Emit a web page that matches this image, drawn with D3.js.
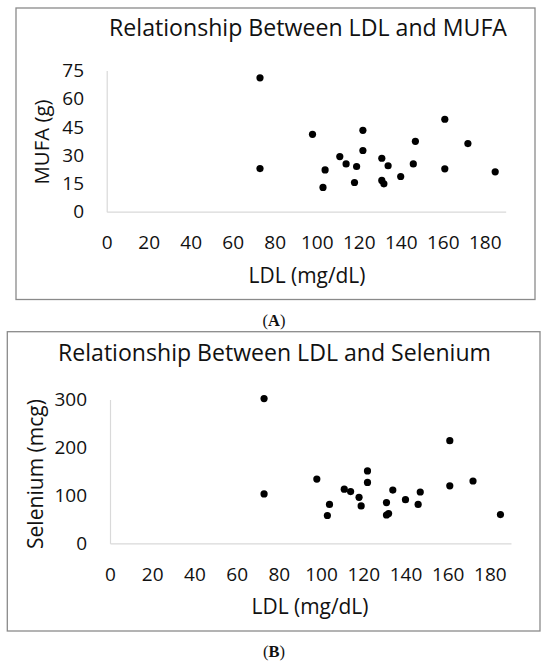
<!DOCTYPE html>
<html>
<head>
<meta charset="utf-8">
<script src="https://cdnjs.cloudflare.com/ajax/libs/d3/7.8.5/d3.min.js"></script>
<style>
  body { margin: 0; background: #fff; }
  svg text { font-family: "Open Sans", Lato, sans-serif; fill: #111; }
  svg text.caption { font-family: "Liberation Serif", "DejaVu Serif", serif; }
</style>
</head>
<body>
<svg id="chart" width="550" height="666"></svg>
<script>
// values (same subjects, same LDL)
var ldl = [73, 73, 98, 103, 104, 111, 114, 118, 119, 122, 122, 131, 131, 132, 134, 140, 146, 147, 161, 161, 172, 185];
var mufa = [71.1, 22.9, 41.1, 12.9, 22.2, 29.3, 25.4, 15.5, 24.0, 43.2, 32.5, 28.4, 16.6, 14.8, 24.4, 18.7, 25.4, 37.4, 49.1, 22.8, 36.2, 21.2];
var selenium = [302, 103, 134, 58, 81, 113, 108, 96, 78, 151, 127, 85, 59, 62, 111, 91, 81, 107, 214, 120, 130, 60];

var ldlTicks = [0, 20, 40, 60, 80, 100, 120, 140, 160, 180];
var mufaTicks = [0, 15, 30, 45, 60, 75];
var seleniumTicks = [0, 100, 200, 300];

var svg = d3.select('#chart');

// scale a label's font so it spans the width measured on the picture
function fitText(sel, width) {
  var size = +sel.attr('font-size');
  var w = sel.node().getComputedTextLength();
  sel.attr('font-size', (size * width / w).toFixed(2));
}

function drawPanel(p) {
  var g = svg.append('g');

  // outer frame
  g.append('rect')
    .attr('x', p.box[0])
    .attr('y', p.box[1])
    .attr('width', p.box[2] - p.box[0])
    .attr('height', p.box[3] - p.box[1])
    .attr('fill', '#fff')
    .attr('stroke', '#8a8a8a')
    .attr('stroke-width', 1.3);

  var x = d3.scaleLinear().domain([0, 190]).range([p.left, p.right]);
  var y = d3.scaleLinear().domain(p.yDomain).range([p.bottom, p.top]);

  var xAxis = d3.axisBottom(x).tickValues(ldlTicks).tickSize(0).tickPadding(24);
  var yAxis = d3.axisLeft(y).tickValues(p.yTicks).tickSize(0).tickPadding(p.yPad);

  var gx = g.append('g')
    .attr('transform', 'translate(0,' + p.bottom + ')')
    .call(xAxis);
  var gy = g.append('g')
    .attr('transform', 'translate(' + p.left + ',0)')
    .call(yAxis);

  [gx, gy].forEach(function (a) {
    a.attr('font-family', null).attr('font-size', null);
    a.select('.domain').attr('stroke', '#d9d9d9').attr('stroke-width', 1.2);
    a.selectAll('text').attr('font-size', 19).attr('fill', '#111');
  });

  // points
  g.selectAll('circle')
    .data(ldl)
    .enter().append('circle')
    .attr('cx', function (d) { return x(d); })
    .attr('cy', function (d, i) { return y(p.values[i]); })
    .attr('r', 3.6)
    .attr('fill', '#000');

  var title = g.append('text')
    .attr('x', p.titleX)
    .attr('y', p.titleY)
    .attr('text-anchor', 'middle')
    .attr('font-size', 22)
    .text(p.title);
  fitText(title, p.titleW);

  var xt = g.append('text')
    .attr('x', p.xTitleX)
    .attr('y', p.bottom + 71)
    .attr('text-anchor', 'middle')
    .attr('font-size', 19)
    .text('LDL (mg/dL)');
  fitText(xt, 117);

  var yt = g.append('text')
    .attr('transform', 'translate(' + p.yTitleX + ',' + p.yTitleY + ') rotate(-90)')
    .attr('text-anchor', 'middle')
    .attr('dominant-baseline', 'central')
    .attr('font-size', 19)
    .text(p.yTitle);
  fitText(yt, p.yTitleW);

  var cap = svg.append('text')
    .attr('class', 'caption')
    .attr('x', 274)
    .attr('y', p.capY)
    .attr('text-anchor', 'middle')
    .attr('font-size', 16.5);
  cap.append('tspan').text('(');
  cap.append('tspan').attr('font-weight', 'bold').text(p.letter);
  cap.append('tspan').text(')');
}

drawPanel({
  box: [16, 8, 535, 299.5],
  left: 106.7, right: 505.7, top: 70.5, bottom: 211.7,
  yDomain: [0, 75], yTicks: mufaTicks, yPad: 22.7,
  values: mufa,
  title: 'Relationship Between LDL and MUFA', titleX: 308, titleY: 35.7, titleW: 398,
  xTitleX: 307,
  yTitle: 'MUFA (g)', yTitleX: 41, yTitleY: 142, yTitleW: 85,
  letter: 'A', capY: 325.5
});

drawPanel({
  box: [7.3, 331.7, 540, 631],
  left: 110, right: 511, top: 399.5, bottom: 543.3,
  yDomain: [0, 300], yTicks: seleniumTicks, yPad: 23,
  values: selenium,
  title: 'Relationship Between LDL and Selenium', titleX: 274.5, titleY: 360.7, titleW: 433,
  xTitleX: 310,
  yTitle: 'Selenium (mcg)', yTitleX: 35, yTitleY: 474, yTitleW: 150,
  letter: 'B', capY: 657
});
</script>
</body>
</html>
